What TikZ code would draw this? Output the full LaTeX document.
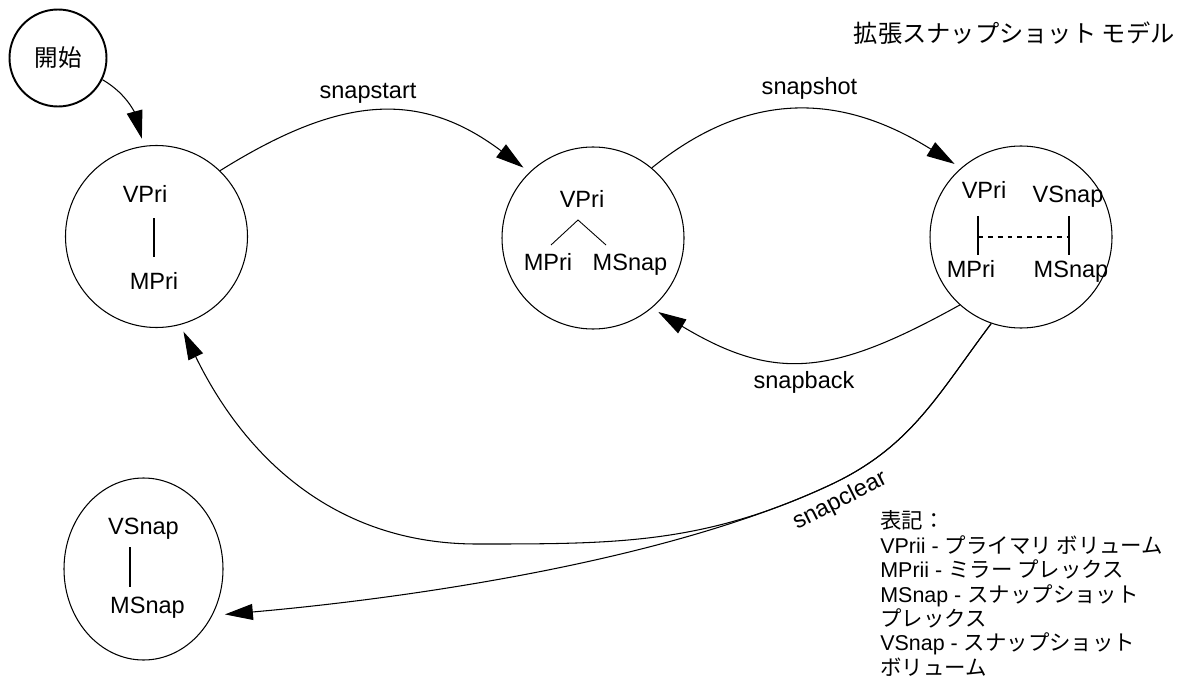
\documentclass[tikz,border=0pt]{standalone}
\usepackage{fontspec}
\setmainfont{Liberation Sans}
\newfontfamily\jp{Noto Sans CJK JP}
\usetikzlibrary{arrows.meta,shapes.geometric}

\tikzset{
  state/.style={draw, circle, line width=0.6pt, minimum size=3.64cm, inner sep=0pt},
  lbl/.style={font=\fontsize{13.4pt}{16pt}\selectfont, inner sep=0pt, anchor=base},
  arr/.style={-{Triangle[length=0.56cm,width=0.32cm]}, line width=0.6pt, shorten >=0.15cm},
  tree/.style={line width=1pt},
}

\begin{document}
\begin{tikzpicture}
\useasboundingbox (0,0) rectangle (23.62,13.76);

\node [font=\jp\fontsize{13.8pt}{16pt}\selectfont, anchor=east, inner sep=0pt] (title) at (23.5,13.1) {拡張スナップショット モデル};

%states
\node [draw, circle, line width=1.1pt, minimum size=1.94cm, inner sep=0pt, font=\jp\fontsize{13.4pt}{16pt}\selectfont] (start) at (1.16,12.6) {開始};
\node [state] (pri) at (3.13,9.03) {};
\node [state] (mir) at (11.86,9.0) {};
\node [state] (snp) at (20.42,9.02) {};
\node [draw, ellipse, line width=0.6pt, minimum width=3.18cm, minimum height=3.64cm, inner sep=0pt] (clr) at (2.87,2.38) {};

%primary only
\node [lbl] (priV) at (2.9,9.70) {VPri};
\node [lbl] (priM) at (3.08,7.98) {MPri};
\draw [tree] (3.08,9.4) -- (3.08,8.62);

%mirror plus snap plex
\node [lbl] (mirV) at (11.64,9.6) {VPri};
\node [lbl] (mirM) at (10.96,8.36) {MPri};
\node [lbl] (mirS) at (12.6,8.36) {MSnap};
\draw [line width=0.5pt] (11.02,8.86) -- (11.56,9.36) -- (12.12,8.86);

%split snapshot
\node [lbl] (snpV) at (19.68,9.78) {VPri};
\node [lbl] (snpVS) at (21.36,9.70) {VSnap};
\node [lbl] (snpM) at (19.42,8.22) {MPri};
\node [lbl] (snpMS) at (21.42,8.22) {MSnap};
\draw [tree] (19.56,9.44) -- (19.56,8.66);
\draw [tree] (21.38,9.44) -- (21.38,8.66);
\draw [line width=0.7pt, dash pattern=on 2.8pt off 2.8pt] (19.56,9.02) -- (21.38,9.02);

%cleared snapshot
\node [lbl] (clrV) at (2.87,3.08) {VSnap};
\node [lbl] (clrM) at (2.95,1.5) {MSnap};
\draw [line width=0.8pt] (2.6,2.82) -- (2.6,2.02);

%transitions
\draw [arr] (start.-26) to[out=-30, in=105] (pri.98);
\draw [arr] (pri.46) to[out=32, in=143, looseness=1.15] (mir.134);
\draw [arr] (mir.50) to[out=39, in=148, looseness=1.1] (snp.131);
\draw [arr] (snp.-132) to[out=-151, in=-31, looseness=1.2] (mir.-50);
\coordinate (split) at (16.6,4.06);
\coordinate (low) at (9.54,2.88);
\draw [arr] (snp.-109) to[out=-127, in=25] (split) to[out=205, in=0] (low) to[out=180, in=-64] (pri.-75);
\draw [arr, shorten >=0.25cm] (snp.-109) to[out=-127, in=25] (split) to[out=205, in=5, looseness=0.75] (clr.-34);

\node [lbl] (lstart) at (7.36,11.78) {snapstart};
\node [lbl] (lshot) at (16.19,11.86) {snapshot};
\node [lbl] (lback) at (16.08,6.0) {snapback};
\node [font=\fontsize{13.4pt}{16pt}\selectfont, inner sep=0pt, rotate=27] (lclear) at (16.8,3.74) {snapclear};

%legend
\node [font=\fontsize{12.2pt}{13.9pt}\selectfont, align=left, anchor=north west, inner sep=0pt] (legend) at (17.6,3.55)
  {{\jp 表記：}\\
   VPrii - {\jp プライマリ ボリューム}\\
   MPrii - {\jp ミラー プレックス}\\
   MSnap - {\jp スナップショット}\\
   {\jp プレックス}\\
   VSnap - {\jp スナップショット}\\
   {\jp ボリューム}};

\end{tikzpicture}
\end{document}
